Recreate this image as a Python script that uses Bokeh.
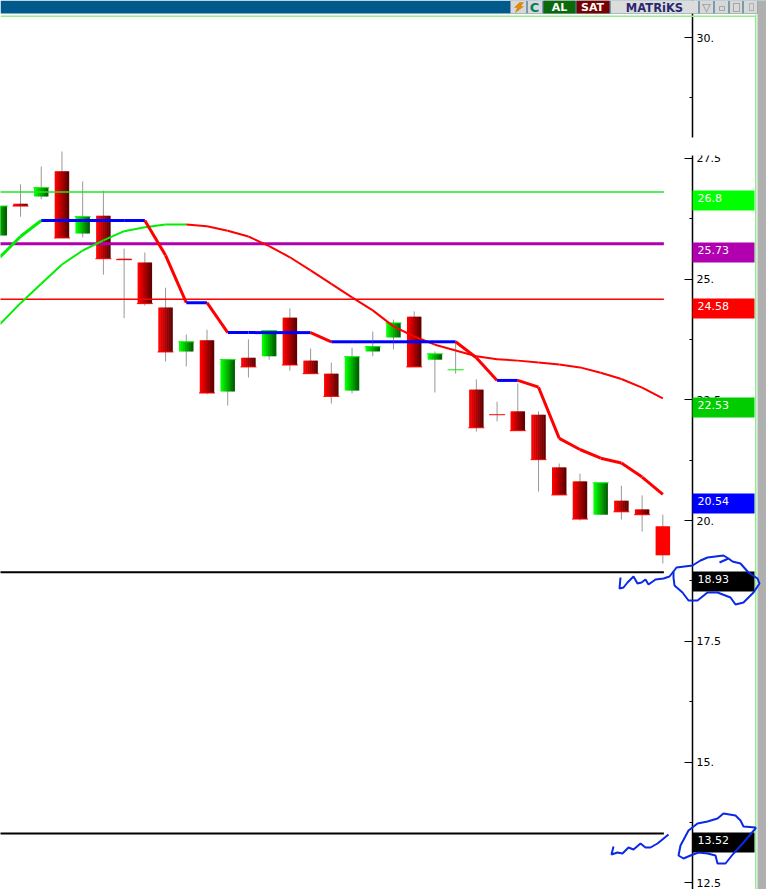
from bokeh.plotting import figure
from bokeh.models import Range1d, LinearAxis, FixedTicker, BoxAnnotation, Label, PolyAnnotation
from bokeh.embed import file_html
from bokeh.resources import INLINE

# Candles (oldest to newest)
opens = [25.90,26.56,26.71,27.23,25.94,26.31,25.42,25.34,24.41,23.50,23.73,22.67,23.37,23.40,24.20,23.31,23.04,
         22.69,23.50,23.79,24.22,23.33,23.12,22.71,22.19,22.26,22.19,21.10,20.81,20.12,20.41,20.23,19.88]
highs = [26.51,26.96,27.33,27.64,27.02,26.83,25.63,25.55,24.82,23.85,23.95,23.33,23.75,23.93,24.39,23.56,23.27,
         23.58,23.91,24.16,24.33,23.50,23.71,22.92,22.46,22.84,22.26,21.18,20.97,20.78,20.72,20.52,20.12]
lows = [25.90,26.29,26.65,25.85,25.86,25.09,24.19,24.45,23.29,23.19,22.61,22.38,22.96,23.33,23.10,23.04,22.42,
        22.63,23.40,23.54,23.18,22.65,23.04,21.84,22.05,21.86,20.60,20.53,20.00,20.12,20.02,19.77,19.11]
closes = [26.51,26.51,26.89,25.85,26.29,25.42,25.40,24.49,23.49,23.70,22.64,23.33,23.18,23.93,23.22,23.04,22.57,
          23.39,23.60,24.09,23.18,23.45,23.12,21.92,22.19,21.86,21.26,20.53,20.03,20.78,20.18,20.12,19.28]
fast_line = [25.45,25.88,26.21,26.21,26.21,26.21,26.21,26.21,25.49,24.51,24.51,23.89,23.89,23.89,23.89,23.89,23.70,
             23.70,23.70,23.70,23.70,23.70,23.70,23.37,22.90,22.90,22.76,21.70,21.47,21.29,21.19,20.90,20.54]
slow_line = [24.06,24.50,24.90,25.30,25.59,25.80,25.99,26.07,26.13,26.13,26.09,26.00,25.88,25.68,25.45,25.18,24.90,
             24.62,24.35,24.02,23.81,23.64,23.52,23.40,23.34,23.31,23.27,23.23,23.17,23.06,22.93,22.75,22.53]
level_values = [26.8, 25.73, 24.58, 18.93, 13.52]
level_colors = ["#22e622", "#b000b0", "#ff0000", "#000000", "#000000"]
level_widths = [1.5, 3, 1.5, 2, 2]
tag_values = [26.8, 25.73, 24.58, 22.53, 20.54, 18.93, 13.52]
tag_labels = ["26.8", "25.73", "24.58", "22.53", "20.54", "18.93", "13.52"]
tag_colors = ["#00ff00", "#b000b0", "#ff0000", "#00cc00", "#0000ff", "#000000", "#000000"]
major_ticks = [30, 27.5, 25, 22.5, 20, 17.5, 15, 12.5]
tick_labels = ["30.", "27.5", "25.", "22.5", "20.", "17.5", "15.", "12.5"]
minor_ticks = [28.75, 26.25, 23.75, 21.25, 18.75, 16.25, 13.75]

# Hand-drawn pen marks, in page pixels
ring_a = [(673,571),(676,567),(692,565),(700,560),(707,557),(723,555),(728,558),(719,562),(728,558),(732,561),(740,563),
          (748,572),(757,578),(759,583),(753,592),(743,602),(735,604),(730,597),(717,592),(707,592),(697,600),(688,600),
          (682,592),(674,585),(673,577),(673,571)]
wiggle_a = [(620,577),(619,588),(623,587),(627,582),(633,576),(637,583),(641,582),(645,579),(648,584),(655,579),(663,578),
            (669,576),(673,571)]
ring_b = [(755,827),(743,826),(740,820),(735,815),(723,813),(717,818),(707,821),(697,823),(688,830),(680,845),(678,855),
          (683,858),(690,855),(698,852),(707,853),(715,855),(717,863),(725,863),(733,853),(743,842),(755,828)]
wiggle_b = [(613,846),(611,854),(617,852),(622,853),(628,847),(633,849),(640,843),(645,847),(650,847),(657,843),(668,834)]
bolt = [(519,2),(523,2),(520,6),(523,6),(515,12),(517,7),(514,7)]

W, H = 766, 889
AXIS_X = 692
PX_PER_BAR, PX_PER_UNIT = 20.72, 48.3
FONT = "DejaVu Sans"

p = figure(width=W, height=H, output_backend="svg", toolbar_location=None,
           x_range=Range1d(0.7 / PX_PER_BAR, (W + 0.7) / PX_PER_BAR),
           y_range=Range1d(30 - (H - 37) / PX_PER_UNIT, 30 + 37 / PX_PER_UNIT),
           min_border_left=0, min_border_right=0, min_border_top=0, min_border_bottom=0,
           x_axis_location=None, y_axis_location=None, outline_line_color=None)
p.grid.visible = False

axis = LinearAxis(ticker=FixedTicker(ticks=major_ticks, minor_ticks=minor_ticks),
                  major_label_overrides=dict(zip(major_ticks, tick_labels)),
                  fixed_location=(AXIS_X + 0.7) / PX_PER_BAR,
                  major_tick_in=8, major_tick_out=0, minor_tick_in=3, minor_tick_out=0,
                  major_tick_line_color="black", minor_tick_line_color="black",
                  axis_line_color="black", axis_line_width=1.5, major_tick_line_width=1,
                  major_label_standoff=4, major_label_text_font=FONT,
                  major_label_text_font_size="11px", major_label_text_color="black")
p.add_layout(axis, "right")

idx = list(range(len(opens)))
BODY = 14 / PX_PER_BAR
STRIPS = 7
CAP = 16 / PX_PER_BAR

p.segment(idx, highs, idx, lows, line_color="#999999", line_width=1)


def shade(t, up):
    v = int(255 - t * 155)
    return f"#00{v:02x}00" if up else f"#{v:02x}0000"


for s in range(STRIPS):
    t = s / (STRIPS - 1)
    offset = (t - 0.5) * BODY * (STRIPS - 1) / STRIPS
    xs, tops, bots, cols = [], [], [], []
    for i in idx:
        up = closes[i] >= opens[i]
        xs.append(i + offset)
        tops.append(max(opens[i], closes[i]))
        bots.append(min(opens[i], closes[i]))
        cols.append("#ff0000" if i == idx[-1] else shade(t, up))
    p.vbar(x=xs, top=tops, bottom=bots, width=BODY / STRIPS * 1.25, fill_color=cols, line_color=None)

p.segment([i - CAP / 2 for i in idx[:-1]], closes[:-1], [i + CAP / 2 for i in idx[:-1]], closes[:-1],
          line_color=["#00ee00" if closes[i] > opens[i] or i == 22 else "#ff0000" for i in idx[:-1]], line_width=1)

last = idx[-1]
for v, c, w in zip(level_values, level_colors, level_widths):
    p.line([0, last + 0.05], [v, v], line_color=c, line_width=w)

slow_cols = ["#00ee00" if slow_line[i + 1] >= slow_line[i] else "#ff0000" for i in idx[:-1]]
p.multi_line([[i, i + 1] for i in idx[:-1]], [[slow_line[i], slow_line[i + 1]] for i in idx[:-1]],
             line_color=slow_cols, line_width=2)


def fast_col(a, b):
    return "#0000ff" if a == b else ("#00ee00" if b > a else "#ff0000")


fast_cols = [fast_col(fast_line[i], fast_line[i + 1]) for i in idx[:-1]]
p.multi_line([[i, i + 1] for i in idx[:-1]], [[fast_line[i], fast_line[i + 1]] for i in idx[:-1]],
             line_color=fast_cols, line_width=3)


# Chrome around the plot, all in page pixels measured from the top
def box(x0, y0, x1, y1, color, line=None):
    p.add_layout(BoxAnnotation(left=x0, right=x1, top=H - y0, bottom=H - y1, left_units="screen", right_units="screen",
                               top_units="screen", bottom_units="screen", fill_color=color, fill_alpha=1,
                               line_color=line, level="overlay", editable=False))


def txt(x, y, s, color="white", size="11px", bold=False, align="left", font=FONT):
    p.add_layout(Label(x=x, y=H - y, x_units="screen", y_units="screen", text=s, text_color=color,
                       text_font=font, text_font_size=size, text_align=align, text_baseline="middle",
                       text_font_style="bold" if bold else "normal", level="overlay"))


def tag_top(v):
    return round(37 + (30 - v) * PX_PER_UNIT - 1.1)


box(686, 137, 754, 155, "white")
for v, c in zip(tag_values, tag_colors):
    box(692, tag_top(v), 754, tag_top(v) + 20, c)

box(0, 0, W, 13, "#005a8c")
box(0, 15, 755, 16.5, "#90ee90")
box(754.5, 14, 756, H, "#90ee90")
box(757, 0, W, H, "#b0b0b0")
box(510, 0, 526, 13, "#d8d8d8", "#a0a0a0")
box(527, 0, 542, 13, "#d8d8d8", "#a0a0a0")
box(543, 0, 575, 13, "#0a6a0a", "#a0a0a0")
box(576, 0, 609, 13, "#7a0000", "#a0a0a0")
box(610, 0, 698, 13, "#dcdcdc", "#a0a0a0")
box(699, 0, 713, 13, "#d8d8d8", "#a0a0a0")
box(714, 0, 728, 13, "#d8d8d8", "#a0a0a0")
box(729, 0, 742, 13, "#d8d8d8", "#a0a0a0")
box(743, 0, 757, 13, "#d8d8d8", "#a0a0a0")
box(719, 6, 724, 10, "#d8d8d8", "#333333")
box(733, 3, 739, 11, "#d8d8d8", "#333333")
box(749, 3, 753, 10, "#d8d8d8", "#555555")
p.add_layout(PolyAnnotation(xs=[a for a, _ in bolt], ys=[H - b for _, b in bolt], xs_units="screen", ys_units="screen",
                            fill_color="#e68a00", fill_alpha=1, line_color="#b06000", line_width=1, level="overlay",
                            editable=False))

for v, s in zip(tag_values, tag_labels):
    txt(697, tag_top(v) + 7.5, s, color="white", size="11px")
txt(534, 7, "C", color="#008060", size="13px", align="center", bold=True)
txt(559, 7, "AL", size="11px", align="center", bold=True)
txt(592, 7, "SAT", size="11px", align="center", bold=True)
txt(654, 7, "MATRiKS", color="#2a2a70", size="11.5px", align="center", bold=True)
txt(706, 7, "▽", color="#888888", size="11px", align="center")

# Pen marks: open strokes are retraced so the annotation outline stays a stroke
for pts in (ring_a, ring_b, wiggle_a + wiggle_a[::-1], wiggle_b + wiggle_b[::-1]):
    p.add_layout(PolyAnnotation(xs=[a for a, _ in pts], ys=[H - b for _, b in pts], xs_units="screen", ys_units="screen",
                                fill_alpha=0, line_color="#0a28e6", line_width=2, line_alpha=1, level="overlay",
                                editable=False))

open("out.html", "w").write(file_html(p, INLINE))
